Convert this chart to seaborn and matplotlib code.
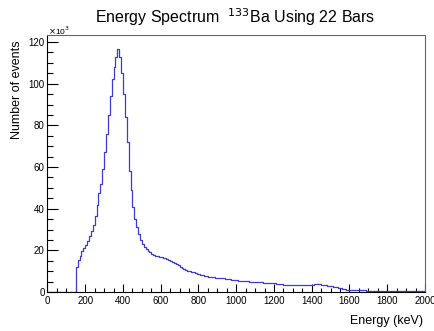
import numpy as np
import pandas as pd
import matplotlib
matplotlib.use("Agg")
import matplotlib.pyplot as plt
import seaborn as sns
from matplotlib.ticker import MultipleLocator

# ---- data (counts in units of 10^3, 10 keV bins from 0 to 2000 keV) ----
bin_width = 10
counts_k = [
    # 0-140
    0, 0, 0, 0, 0, 0, 0, 0, 0, 0, 0, 0, 0, 0, 0,
    # 150-290
    12, 15.5, 17.5, 19.5, 21, 22.5, 24.5, 27, 29.5, 32, 36.5, 42, 47.5, 52, 59,
    # 300-440
    67, 76, 85, 94, 102, 108, 113, 116.5, 113, 105, 95, 84, 72, 58, 49,
    # 450-590
    41, 35, 31, 28, 25, 23, 21.5, 20.5, 19.7, 19, 18.3, 17.8, 17.5, 17.2, 17,
    # 600-740
    16.8, 16.5, 16.1, 15.7, 15.3, 14.8, 14.3, 13.9, 13.4, 12.8, 12.1, 11.5, 11.1, 10.7, 10.3,
    # 750-890
    10, 9.7, 9.4, 9.1, 8.8, 8.5, 8.2, 8.0, 7.8, 7.6, 7.4, 7.3, 7.1, 7.0, 6.9,
    # 900-1040
    6.8, 6.7, 6.6, 6.5, 6.3, 6.2, 6.1, 6.0, 5.8, 5.7, 5.6, 5.5, 5.4, 5.3, 5.3,
    # 1050-1190
    5.2, 5.1, 5.0, 5.0, 4.9, 4.8, 4.7, 4.7, 4.6, 4.5, 4.4, 4.4, 4.3, 4.2, 4.2,
    # 1200-1340
    4.1, 4.0, 3.9, 3.8, 3.7, 3.6, 3.5, 3.5, 3.4, 3.4, 3.4, 3.4, 3.4, 3.4, 3.4,
    # 1350-1490
    3.4, 3.4, 3.4, 3.4, 3.5, 3.6, 3.7, 3.8, 3.8, 3.7, 3.6, 3.4, 3.3, 3.1, 3.0,
    # 1500-1640
    2.8, 2.6, 2.4, 2.2, 1.9, 1.7, 1.5, 1.3, 1.2, 1.1, 1.0, 0.95, 0.9, 0.88, 0.85,
    # 1650-1790
    0.82, 0.8, 0.78, 0.75, 0.72, 0.7, 0.7, 0.68, 0.66, 0.65, 0.63, 0.62, 0.6, 0.58, 0.57,
    # 1800-1940
    0.55, 0.54, 0.53, 0.52, 0.5, 0.5, 0.49, 0.48, 0.47, 0.46, 0.45, 0.44, 0.43, 0.42, 0.42,
    # 1950-1990
    0.41, 0.41, 0.4, 0.4, 0.4,
]
x_ticks = [0, 200, 400, 600, 800, 1000, 1200, 1400, 1600, 1800, 2000]
y_ticks = [0, 20, 40, 60, 80, 100, 120]

edges = [float(bin_width * i) for i in range(len(counts_k) + 1)]
centers = [e + bin_width / 2 for e in edges[:-1]]
df = pd.DataFrame({"energy": centers, "counts": counts_k})

sns.set_style("ticks")
plt.rcParams["font.family"] = ["Liberation Sans", "DejaVu Sans"]
plt.rcParams["text.color"] = "black"

fig = plt.figure(figsize=(4.35, 3.31), dpi=100)
ax = fig.add_axes([47.5 / 435, 1 - 292 / 331, (425 - 47.5) / 435, (292 - 34.5) / 331])

sns.histplot(data=df, x="energy", weights="counts", bins=edges,
             element="step", fill=False, color="#3c3cd0", linewidth=0.9, ax=ax)

ax.set_xlim(0, 2000)
ax.set_ylim(0, 123.6)
ax.set_xticks(x_ticks)
ax.set_yticks(y_ticks)
ax.xaxis.set_minor_locator(MultipleLocator(50))
ax.yaxis.set_minor_locator(MultipleLocator(5))
ax.tick_params(axis="x", which="major", direction="in", length=5.5, width=0.8,
               labelsize=7, pad=3, top=False, color="black", labelcolor="black")
ax.tick_params(axis="x", which="minor", direction="in", length=2.8, width=0.8,
               top=False, color="black")
ax.tick_params(axis="y", which="major", direction="in", length=7.9, width=0.8,
               labelsize=7, pad=2, right=False, color="black", labelcolor="black")
ax.tick_params(axis="y", which="minor", direction="in", length=4, width=0.8,
               right=False, color="black")

for side in ["left", "bottom"]:
    ax.spines[side].set_color("black")
    ax.spines[side].set_linewidth(0.8)
for side in ["top", "right"]:
    ax.spines[side].set_color("#666666")
    ax.spines[side].set_linewidth(0.8)

ax.set_xlabel("")
ax.set_ylabel("")
fig.text(423 / 435, 1 - 321 / 331, "Energy (keV)", ha="right", va="center", fontsize=9)
fig.text(17 / 435, 1 - 40 / 331, "Number of events", ha="center", va="top",
         rotation=90, fontsize=9)
fig.text(48 / 435, 1 - 31 / 331, r"$\times$10$^{3}$", ha="left", va="center", fontsize=6)
fig.text(235 / 435, 1 - 17 / 331, r"Energy Spectrum  $^{133}$Ba Using 22 Bars",
         ha="center", va="center", fontsize=11.5)

fig.savefig("out.png", dpi=100)
